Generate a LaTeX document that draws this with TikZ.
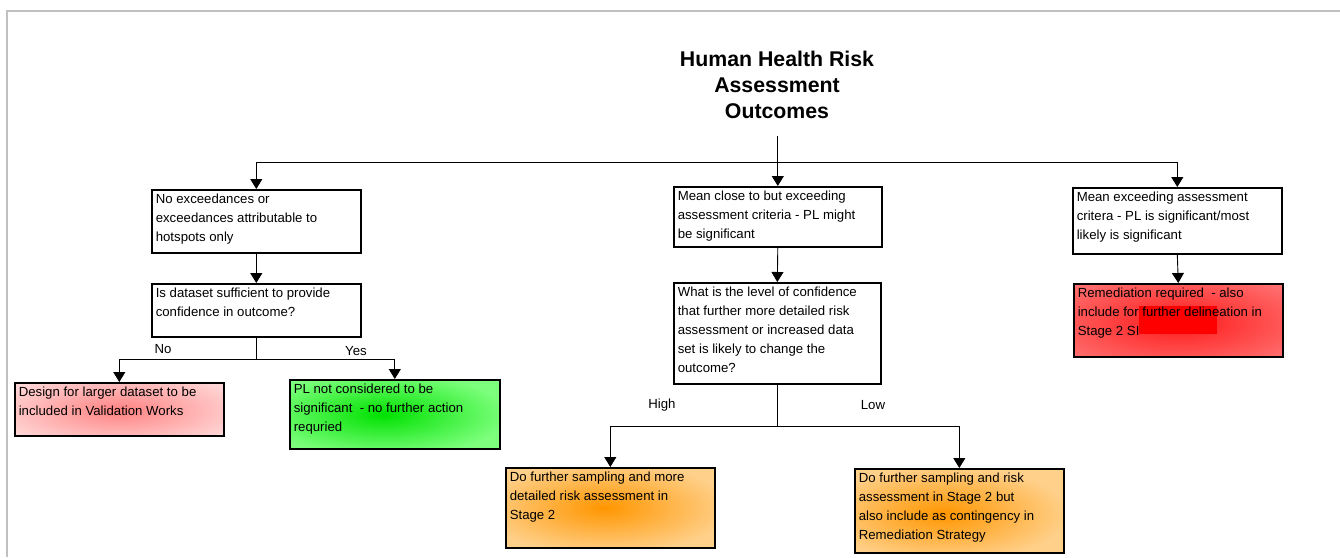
\documentclass[tikz,border=0pt]{standalone}
\usepackage{fontspec}
\setmainfont{Liberation Sans}
\usetikzlibrary{arrows.meta}
\definecolor{pinkout}{RGB}{255,214,214}
\definecolor{pinkin}{RGB}{255,130,130}
\definecolor{greenout}{RGB}{125,255,125}
\definecolor{greenin}{RGB}{0,225,0}
\definecolor{orout}{RGB}{255,208,138}
\definecolor{orin}{RGB}{255,150,0}
\definecolor{redout}{RGB}{255,118,118}
\definecolor{redin}{RGB}{255,25,25}
\definecolor{frame}{RGB}{192,192,192}
\newcommand\bx[3]{\parbox[c][#2pt][t]{#1pt}{\raggedright\strut #3}}
\tikzset{
  box/.style={draw=black, line width=1.6pt, inner xsep=4pt, inner ysep=0pt, anchor=north west, font=\fontsize{13.2}{19}\selectfont},
  conn/.style={line width=0.9pt},
  arr/.style={conn, -{Triangle[width=12pt,length=10pt]}},
  lbl/.style={font=\fontsize{13.2}{19}\selectfont, anchor=base, inner sep=0pt},
  ttl/.style={font=\bfseries\fontsize{21.3}{26}\selectfont, align=center, inner sep=0pt, anchor=north},
  glow/.style n args={6}{fill=#2, path picture={\shade[inner color=#1, outer color=#2] ([xshift=#3,yshift=#4]path picture bounding box.center) ellipse [x radius=#5, y radius=#6];}},
}
\begin{document}
\begin{tikzpicture}[x=1pt,y=-1pt]
\useasboundingbox (0,0) rectangle (1340,557);
\fill[white] (0,0) rectangle (1340,557);
\draw[frame, line width=1.2pt] (1340,11) -- (7,11) -- (7,557);

\node[ttl] (title) at (777,50.7) {Human Health Risk\\Assessment\\Outcomes};

\node[box] (A) at (151,189) {\bx{201}{63}{No exceedances or\\exceedances attributable to\\hotspots only}};
\node[box] (B) at (151,283) {\bx{201}{53}{Is dataset sufficient to provide\\confidence in outcome?}};
\node[box, glow={pinkin}{pinkout}{0pt}{-1pt}{130pt}{38pt}] (C) at (14,382) {\bx{201}{53}{Design for larger dataset to be\\included in Validation Works}};
\node[box, glow={greenin}{greenout}{-12pt}{0pt}{125pt}{42pt}] (D) at (289,379) {\bx{202}{69}{PL not considered to be\\significant~ - no further action\\requried}};

\node[box] (E) at (673,186) {\bx{200}{60}{Mean close to but exceeding\\assessment criteria - PL might\\be significant}};
\node[box] (F) at (673,282) {\bx{199}{101}{What is the level of confidence\\that further more detailed risk\\assessment or increased data\\set is likely to change the\\outcome?}};
\node[box, glow={orin}{orout}{-6pt}{0pt}{125pt}{46pt}] (G) at (505,467) {\bx{201}{80}{Do further sampling and more\\detailed risk assessment in\\Stage 2}};
\node[box, glow={orin}{orout}{-16pt}{-3pt}{125pt}{48pt}] (H) at (854,468) {\bx{201}{84}{Do further sampling and risk\\assessment in Stage 2 but\\also include as contingency in\\Remediation Strategy}};

\node[box] (I) at (1072,187) {\bx{201}{66}{Mean exceeding assessment\\critera - PL is significant/most\\likely is significant}};
\node[box, fill=redout, path picture={
    \shade[inner color=redin, outer color=redout] ([yshift=-2pt]path picture bounding box.center) ellipse [x radius=155pt, y radius=54pt];
    \fill[red] ([xshift=65pt,yshift=-22pt]path picture bounding box.north west) rectangle ++(78,28);
  }] (J) at (1073,283) {\bx{201}{73}{Remediation required~ - also\\include for further delineation in\\Stage 2 SI}};

\coordinate (hs) at (777,162);
\path ([yshift=-17pt]title.south) coordinate (t0);
\draw[arr] (t0 -| E.north) -- (E.north);
\draw[conn] (A.north |- hs) -- (I.north |- hs);
\draw[arr] (A.north |- hs) -- (A.north);
\draw[arr] (I.north |- hs) -- (I.north);
\draw[arr] (A.south) -- (B.north);
\coordinate (bs) at ([yshift=-22pt]B.south);
\draw[conn] (B.south) -- (bs);
\draw[arr] (bs) -| (C.north);
\draw[arr] (bs) -| (D.north);
\draw[arr] (E.south) -- (F.north);
\coordinate (fs) at ([yshift=-42pt]F.south);
\draw[conn] (F.south) -- (fs);
\draw[arr] (fs) -| (G.north);
\draw[arr] (fs) -| (H.north);
\draw[arr] (I.south) -- (J.north);

\node[lbl] (no) at (163,353.5) {No};
\node[lbl] (yes) at (356,355.5) {Yes};
\node[lbl] (high) at (662,408.5) {High};
\node[lbl] (low) at (873,409) {Low};
\end{tikzpicture}
\end{document}
